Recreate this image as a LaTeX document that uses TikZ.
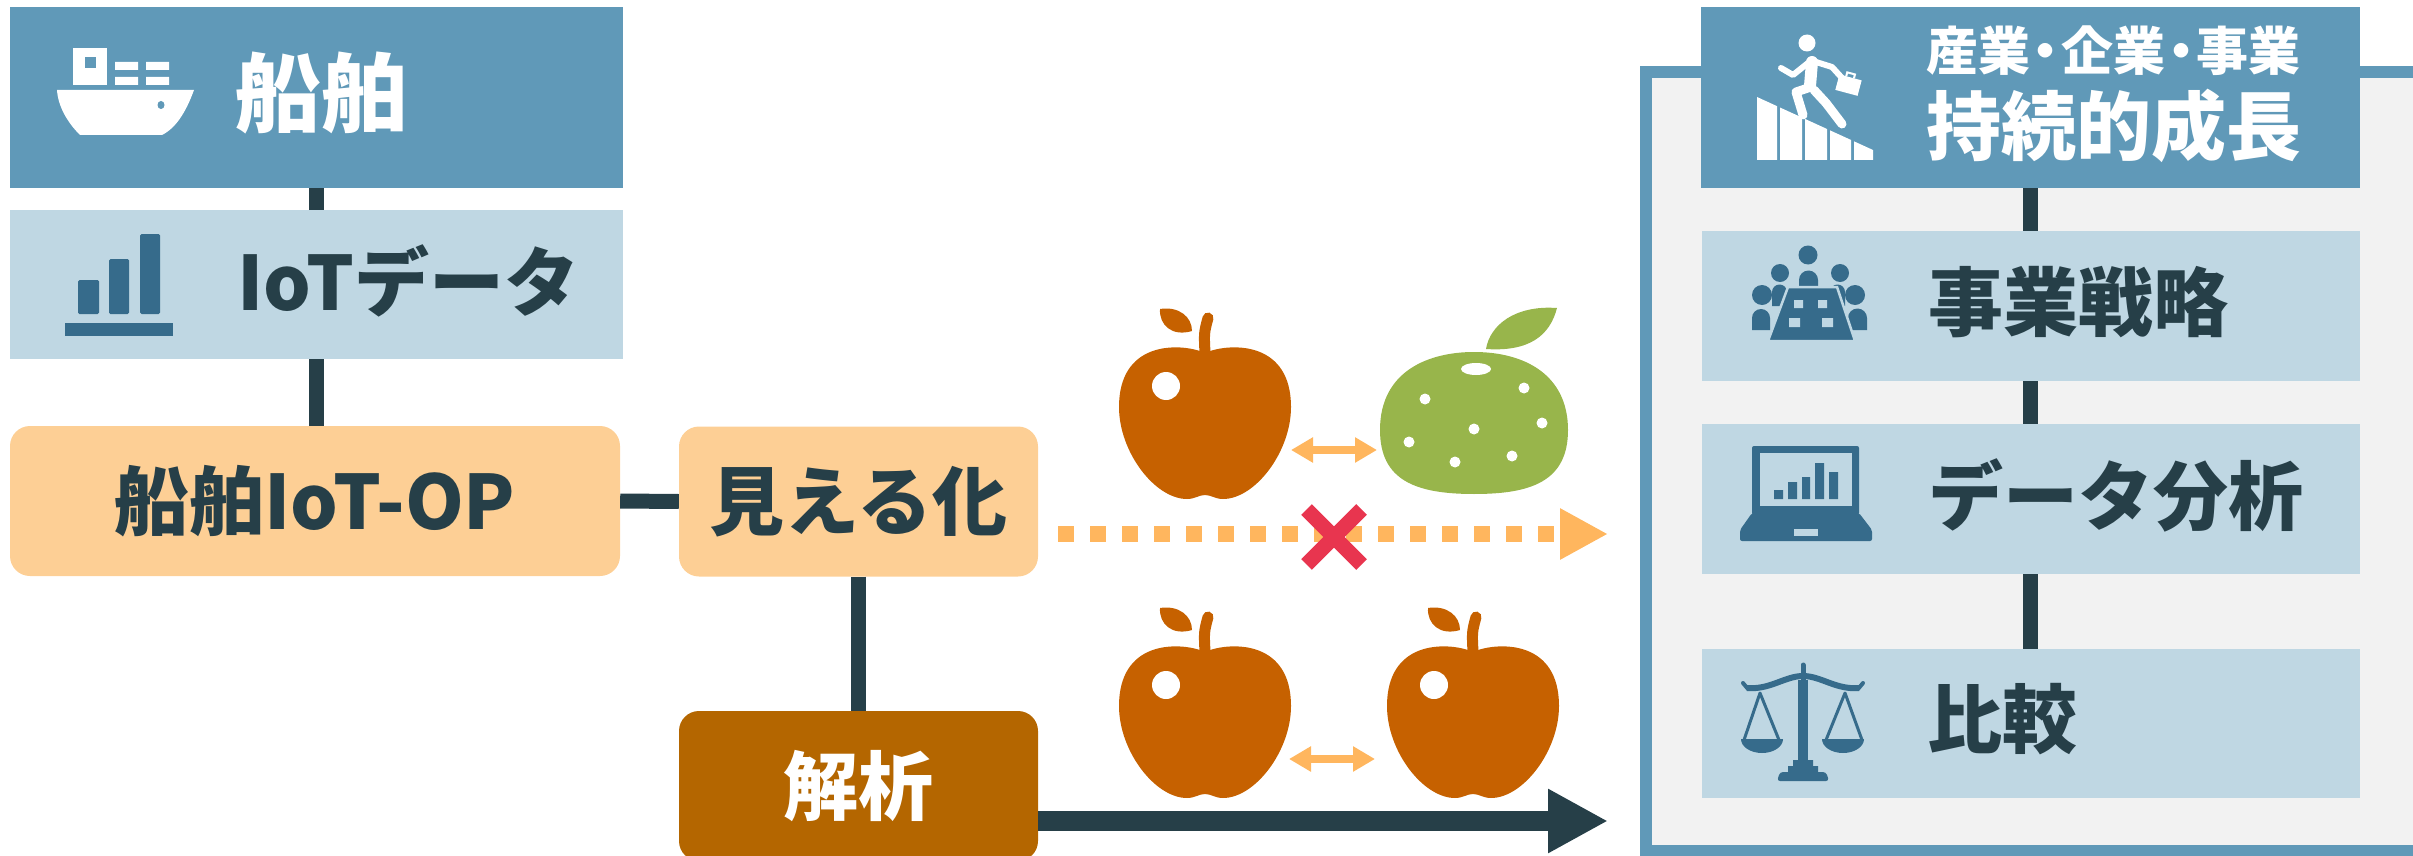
\documentclass[tikz,border=0pt]{standalone}
\usepackage{fontspec}
\setmainfont{Noto Sans CJK JP}
\usetikzlibrary{arrows.meta,calc}

\definecolor{hdrblue}{HTML}{6099B8}
\definecolor{lightblue}{HTML}{BFD7E3}
\definecolor{darkline}{HTML}{263F48}
\definecolor{iconblue}{HTML}{366B8B}
\definecolor{peach}{HTML}{FDCF95}
\definecolor{brownbox}{HTML}{B46600}
\definecolor{applec}{HTML}{C66100}
\definecolor{orangel}{HTML}{FFB65E}
\definecolor{redx}{HTML}{E8354F}
\definecolor{citrusc}{HTML}{98B54B}
\definecolor{panelgray}{HTML}{F2F2F2}

\tikzset{
  hdrbox/.style={fill=hdrblue, inner sep=0, minimum height=181},
  lbox/.style={fill=lightblue, inner sep=0, minimum height=150},
  peachbox/.style={fill=peach, rounded corners=20, inner sep=0, minimum height=150,
    text=darkline, font=\bfseries\fontsize{75}{75}\selectfont},
  brownbx/.style={fill=brownbox, rounded corners=20, inner sep=0, minimum height=150,
    text=white, font=\bfseries\fontsize{75}{75}\selectfont},
  label/.style={anchor=west, inner sep=0, text=darkline, font=\bfseries\fontsize{75}{75}\selectfont},
  conn/.style={draw=darkline, line width=15},
  dblarrow/.style={draw=orangel, line width=8,
    {Triangle[width=24pt,length=22pt]}-{Triangle[width=24pt,length=22pt]}},
  apple/.pic={
    \fill[applec] (-5,4) .. controls (-30,-4) and (-86,-4) .. (-86,60)
      .. controls (-86,105) and (-50,152) .. (-18,152)
      .. controls (-10,152) and (-6,148) .. (0,148)
      .. controls (6,148) and (10,152) .. (18,152)
      .. controls (50,152) and (86,105) .. (86,60)
      .. controls (86,-4) and (30,-4) .. (5,4) -- cycle;
    \draw[applec, line width=11, line cap=round] (0,6) .. controls (-1,-14) .. (3,-29);
    \fill[applec] (-45,-38) .. controls (-46,-22) and (-33,-10) .. (-13,-16)
      .. controls (-13,-30) and (-26,-41) .. (-45,-38) -- cycle;
    \fill[white] (-39,39) ellipse [x radius=14, y radius=14];
  }
}

\begin{document}
\begin{tikzpicture}[x=1pt,y=-1pt]
\useasboundingbox (0,0) rectangle (2413,856);

% right-hand panel
\node[draw=hdrblue, fill=panelgray, line width=12, inner sep=0,
      minimum width=773, minimum height=779] (panel) at (2032.5,461.5) {};

% left column
\node[hdrbox, minimum width=613] (ship) at (316.5,97.5) {};
\node[lbox, minimum width=613, minimum height=149] (iot) at (316.5,284.5) {};
\node[peachbox, minimum width=610] (op) at (315,501) {船舶IoT-OP};
\node[peachbox, minimum width=359] (mieru) at (858.5,501.5) {見える化};
\node[brownbx, minimum width=359] (kaiseki) at (858.5,786) {解析};

% right column
\node[hdrbox, minimum width=659] (goal) at (2030.5,97.5) {};
\node[lbox, minimum width=658] (senryaku) at (2030.5,306) {};
\node[lbox, minimum width=658] (bunseki) at (2030.5,499) {};
\node[lbox, minimum width=658, minimum height=149] (hikaku) at (2030.5,723.5) {};

% connectors
\draw[conn] (ship.south) -- (iot.north);
\draw[conn] (iot.south) -- (op.north -| iot.south);
\draw[conn] (op.east) -- (mieru.west);
\draw[conn] (mieru.south) -- (kaiseki.north);
\draw[conn] (goal.south) -- (senryaku.north);
\draw[conn] (senryaku.south) -- (bunseki.north);
\draw[conn] (bunseki.south) -- (hikaku.north);

% labels
\node[label, text=white, font=\bfseries\fontsize{86}{86}\selectfont] (tship) at (235,93) {船舶};
\node[label] (tiot) at (237,281) {IoTデータ};
\node[label, text=white, font=\bfseries\fontsize{52}{52}\selectfont] (tgoal1) at (1926,51)
  {産業\kern-.2em・\kern-.2em企業\kern-.2em・\kern-.2em事業};
\node[label, text=white] (tgoal2) at (1926,126) {持続的成長};
\node[label] (tsenryaku) at (1928,302) {事業戦略};
\node[label] (tbunseki) at (1928,495) {データ分析};
\node[label] (thikaku) at (1927,719) {比較};

% ship icon
\fill[white] (73,48) rectangle (107,85);
\fill[hdrblue] (85,57) rectangle (96,68);
\fill[white] (115,62) rectangle (138,70) (146,62) rectangle (169,70)
             (115,77) rectangle (138,85) (146,77) rectangle (169,85);
\fill[white] (57,90) -- (194,90) .. controls (186,112) and (176,128) .. (162,135)
  -- (80,135) .. controls (67,122) and (58,106) .. (57,90) -- cycle;
\fill[hdrblue] (161,105) ellipse [x radius=3.5, y radius=4];

% bar chart icon
\fill[iconblue, rounded corners=1.5] (78,280) rectangle (99,314);
\fill[iconblue, rounded corners=1.5] (109,259) rectangle (129,314);
\fill[iconblue, rounded corners=1.5] (140,234) rectangle (160,314);
\fill[iconblue] (65,323) rectangle (173,336);

% climbing figure icon
\foreach \a/\b in {1757/1777,1780/1802,1805/1827,1830/1851,1854/1873}
  \fill[white] (\a,{97+0.457*(\a-1757)}) -- (\b,{97+0.457*(\b-1757)}) -- (\b,160) -- (\a,160) -- cycle;
\fill[white] (1807,43) circle (8.5);
\draw[white, line width=12, line cap=round] (1812,62) -- (1810,86);
\draw[white, line width=6, line cap=round, line join=round] (1808,63) -- (1793,75) -- (1781,68);
\draw[white, line width=6, line cap=round, line join=round] (1816,62) -- (1832,67) -- (1842,78);
\draw[white, line width=9, line cap=round, line join=round] (1808,88) -- (1796,92) -- (1803,115);
\draw[white, line width=9, line cap=round, line join=round] (1814,90) -- (1826,103) -- (1842,124);
\fill[white, rotate around={-15:(1848,85)}] (1837,77) rectangle (1860,93);
\draw[white, line width=2, rotate around={-15:(1848,85)}] (1844,77) -- (1844,73) -- (1852,73) -- (1852,77);

% meeting icon
\fill[iconblue] (1808,255) circle (9.5) (1780,273) circle (9) (1840,273) circle (9)
                (1762,295) circle (10) (1855,295) circle (10);
\fill[iconblue] (1799,288) -- (1799,280) arc (180:360:9.5) -- (1818,288) -- cycle;
\fill[iconblue] (1772,306) -- (1772,292) arc (180:360:7.5) -- (1787,306) -- cycle;
\fill[iconblue] (1830,306) -- (1830,292) arc (180:360:7.5) -- (1845,306) -- cycle;
\fill[iconblue] (1752,330) -- (1752,318) arc (180:360:9) -- (1770,330) -- cycle;
\fill[iconblue] (1848,330) -- (1848,318) arc (180:360:9.5) -- (1867,330) -- cycle;
\draw[lightblue, line width=2.5, fill=iconblue] (1788,287) -- (1837,287) -- (1855,341) -- (1768,341) -- cycle;
\fill[lightblue] (1794,300) rectangle (1803,308) (1818,300) rectangle (1827,308)
                 (1789,318) rectangle (1800,327) (1822,318) rectangle (1833,327);

% laptop icon
\fill[iconblue, rounded corners=2] (1752,446) rectangle (1859,515);
\fill[lightblue] (1760,453) rectangle (1852,506);
\fill[iconblue] (1774,490) rectangle (1783,499) (1788,482) rectangle (1797,499)
                (1802,477) rectangle (1810,499) (1815,463) rectangle (1824,499)
                (1829,472) rectangle (1838,499);
\fill[iconblue, rounded corners=2] (1752,513) -- (1859,513) -- (1872,530) -- (1872,541)
  -- (1740,541) -- (1740,530) -- cycle;
\fill[lightblue] (1794,529) rectangle (1818,536);

% balance scale icon
\fill[iconblue] (1798,680) rectangle (1808,766);
\draw[iconblue, line width=5, line cap=round] (1803,665) -- (1803,685);
\draw[iconblue, line width=6] (1747,688) .. controls (1770,690) and (1785,676) .. (1803,676)
  .. controls (1821,676) and (1836,690) .. (1859,688);
\draw[iconblue, line width=4, line cap=round] (1743,683) -- (1748,689);
\draw[iconblue, line width=4, line cap=round] (1863,683) -- (1858,689);
\draw[iconblue, line width=3, line join=round] (1744,740) -- (1760,693) -- (1779,740);
\draw[iconblue, line width=3, line join=round] (1826,740) -- (1845,693) -- (1862,740);
\fill[iconblue] (1741,739) arc [start angle=180, end angle=0, x radius=21, y radius=14] -- cycle;
\fill[iconblue] (1822,739) arc [start angle=180, end angle=0, x radius=21, y radius=14] -- cycle;
\fill[iconblue] (1793,760) rectangle (1813,767) (1788,766) rectangle (1818,773);
\fill[iconblue, rounded corners=3] (1777,781) -- (1780,772) -- (1826,772) -- (1829,781) -- cycle;

% fruit
\pic (apple1) at (1205,347) {apple};
\pic (apple2) at (1205,646) {apple};
\pic (apple3) at (1473,646) {apple};
\fill[citrusc] (1486,349) .. controls (1490,325) and (1515,305) .. (1557,308)
  .. controls (1550,335) and (1530,352) .. (1486,349) -- cycle;
\fill[citrusc] (1380,430) .. controls (1380,370) and (1430,352) .. (1474,352)
  .. controls (1525,352) and (1568,375) .. (1568,430)
  .. controls (1568,482) and (1530,494) .. (1474,494)
  .. controls (1415,494) and (1380,480) .. (1380,430) -- cycle;
\fill[white] (1476,369) ellipse [x radius=15, y radius=6];
\foreach \p in {(1425,399),(1524,388),(1474,429),(1542,423),(1409,442),(1455,462),(1512,456)}
  \fill[white] \p circle (5.5);

% comparison arrows
\coordinate (cmpA1) at (1291,450);
\coordinate (cmpA2) at (1377,450);
\coordinate (cmpB1) at (1289,759);
\coordinate (cmpB2) at (1375,759);
\draw[dblarrow] (cmpA1) -- (cmpA2);
\draw[dblarrow] (cmpB1) -- (cmpB2);

% paths into the panel
\coordinate (dotend) at (1608,534);
\coordinate (dotstart) at (1058,534);
\coordinate (solidend) at (1608,821);
\draw[orangel, line width=16, dash pattern=on 16pt off 16pt,
      -{Triangle[length=48pt,width=48pt]}] (dotstart) -- (dotend);
\draw[darkline, line width=20, -{Triangle[length=60pt,width=60pt]}] (kaiseki.east |- solidend) -- (solidend);

% cross
\coordinate (xc) at (1334,537);
\draw[redx, line width=15] ($(xc)+(-27.5,-27.5)$) -- ($(xc)+(27.5,27.5)$);
\draw[redx, line width=15] ($(xc)+(-27.5,27.5)$) -- ($(xc)+(27.5,-27.5)$);
\end{tikzpicture}
\end{document}
